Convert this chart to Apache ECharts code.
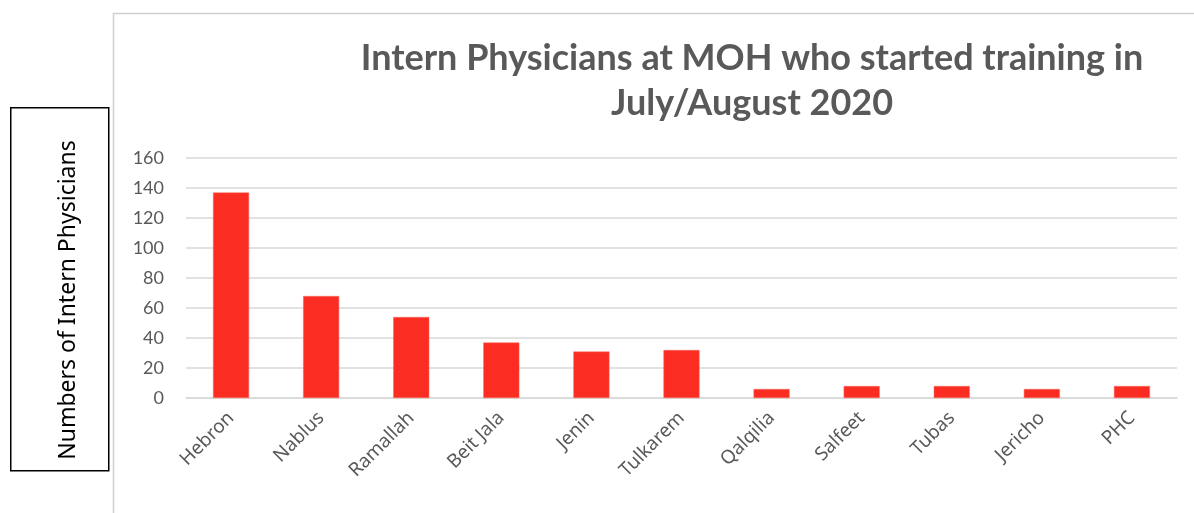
<!DOCTYPE html>
<html><head><meta charset="utf-8">
<script src="https://cdn.jsdelivr.net/npm/echarts@6/dist/echarts.min.js"></script>
<style>html,body{margin:0;padding:0;background:#fff}#c{width:1194px;height:513px}</style>
</head><body><div id="c"></div>
<script>
const categories = ['Hebron','Nablus','Ramallah','Beit Jala','Jenin','Tulkarem','Qalqilia','Salfeet','Tubas','Jericho','PHC'];
const values = [137, 68, 54, 37, 31, 32, 6, 8, 8, 6, 8];
const yTicks = [0, 20, 40, 60, 80, 100, 120, 140, 160];
const titleText = 'Intern Physicians at MOH who started training in\nJuly/August 2020';
const yTitle = 'Numbers of Intern Physicians';

const chart = echarts.init(document.getElementById('c'));
chart.setOption({
  animation: false,
  title: {
    text: titleText,
    left: 747, top: 31, textAlign: 'center',
    textStyle: { fontFamily: 'Lato', fontWeight: 'bold', fontSize: 36, color: '#595959', lineHeight: 45 }
  },
  grid: { left: 186, right: 17, top: 158, bottom: 115, containLabel: false },
  xAxis: {
    type: 'category', data: categories,
    axisLine: { show: true, lineStyle: { color: '#d9d9d9', width: 1.5 } },
    axisTick: { show: false },
    axisLabel: { rotate: 45, fontFamily: 'Noto Sans', fontSize: 19, color: '#595959', margin: 17, interval: 0 }
  },
  yAxis: {
    type: 'value', min: yTicks[0], max: yTicks[yTicks.length - 1], interval: 20,
    axisLine: { show: false }, axisTick: { show: false },
    splitLine: { lineStyle: { color: '#d9d9d9', width: 1.5 } },
    axisLabel: { fontFamily: 'Lato', fontSize: 18, color: '#595959', margin: 22 }
  },
  series: [{
    type: 'bar', data: values, barWidth: '40%',
    itemStyle: { color: '#fb2c22', borderColor: '#fb6a62', borderWidth: 0.5 }
  }],
  graphic: [
    { type: 'rect', left: 111, top: 11, shape: { width: 1100, height: 520 },
      style: { fill: 'none', stroke: '#d0d0d0', lineWidth: 1.5 }, z: -1 },
    { type: 'rect', left: 10, top: 107, shape: { width: 98, height: 363 },
      style: { fill: '#fff', stroke: '#000', lineWidth: 1.5 } },
    { type: 'text', x: 68, y: 300, rotation: Math.PI / 2,
      style: { text: yTitle, fontFamily: 'Noto Sans', fontSize: 23, fill: '#000', align: 'center', verticalAlign: 'middle' } }
  ]
});
</script></body></html>
